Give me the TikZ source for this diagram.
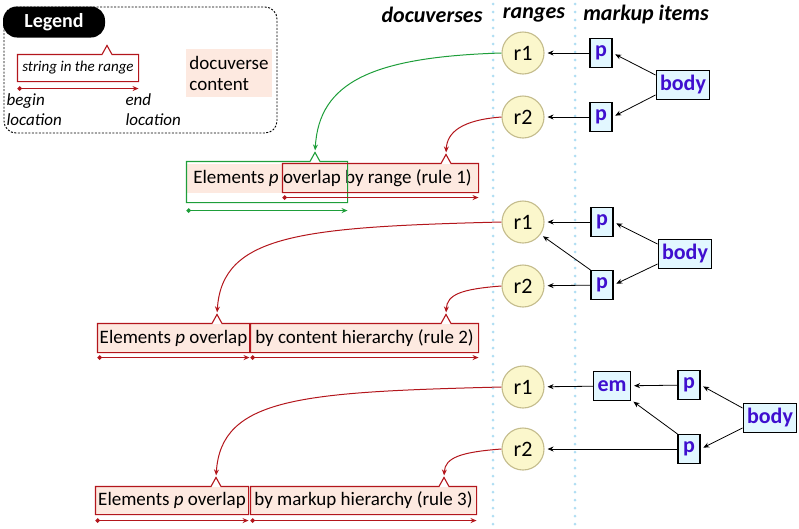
\documentclass[tikz,border=0pt]{standalone}
\usepackage{fontspec}
\setmainfont{Carlito}
\usetikzlibrary{arrows.meta}

\definecolor{rangered}{HTML}{B3161C}
\definecolor{rangegreen}{HTML}{1E9E3A}
\definecolor{docpink}{HTML}{FDE9E0}
\definecolor{rangeyellow}{HTML}{FBF7CC}
\definecolor{rangeedge}{HTML}{C4BC8C}
\definecolor{itemfill}{HTML}{E2F7FF}
\definecolor{itemtext}{HTML}{3F0FCF}
\definecolor{guideblue}{HTML}{B0DEF3}

\tikzset{
  rangenode/.style={circle, draw=rangeedge, fill=rangeyellow, minimum size=42pt, inner sep=0pt, font=\fontsize{22}{22}\selectfont},
  itemnode/.style={draw, fill=itemfill, text=itemtext, font=\bfseries\fontsize{22}{22}\selectfont, minimum height=29pt, minimum width=22pt, inner xsep=4pt, inner ysep=0pt},
  doctext/.style={fill=docpink, font=\fontsize{19}{19}\selectfont, minimum height=28pt, inner sep=0pt},
  spanbox/.style={inner sep=0pt},
  ptr/.style={-{Stealth[length=6pt,width=5pt]}, shorten >=3pt, line width=0.8pt},
  locline/.style={{Circle[length=4.5pt]}-{Stealth[length=6pt,width=5pt]}},
  colhead/.style={font=\bfseries\itshape\fontsize{22}{22}\selectfont},
  guideline/.style={guideblue, line width=3pt, dash pattern=on 0pt off 8pt, line cap=round},
}

% box round a range, with a notch where the range arrow lands
\newcommand{\rangebox}[3]{%
  \coordinate (#1-n) at ({#2},0 |- #1.north);
  \draw[#3] (#1.north west) -- ([xshift=-5pt]#1-n) -- ([yshift=9pt]#1-n) coordinate (#1-tip) -- ([xshift=5pt]#1-n) -- (#1.north east) -- (#1.south east) -- (#1.south west) -- cycle;
}

\begin{document}
\begin{tikzpicture}[x=1pt,y=-1pt,line width=1.1pt]
  \useasboundingbox (0,0) rectangle (799,528);

  % column guides
  \draw[guideline] (493,4) -- (493,528);
  \draw[guideline] (575,4) -- (575,528);

  % column heads
  \node[colhead] (hdoc) at (432,15) {docuverses};
  \node[colhead] (hrange) at (534,15) {ranges};
  \node[colhead] (hitem) at (646,15) {markup items};

  % legend
  \draw[line width=0.9pt, dash pattern=on 2pt off 1.5pt, rounded corners=12pt] (4,7) rectangle (277,133);
  \node[fill=black, text=white, rounded corners=14pt, minimum width=102pt, minimum height=31pt, font=\bfseries\fontsize{20}{20}\selectfont] (legend) at (54,22) {Legend};
  \node[spanbox, minimum width=120pt, minimum height=26pt, font=\itshape\fontsize{15}{15}\selectfont] (legspan) at (78,68) {string in the range};
  \rangebox{legspan}{107}{rangered}
  \draw[locline, rangered] ([yshift=-7pt]legspan.south west) -- ([yshift=-7pt]legspan.south east);
  \node[anchor=north west, align=left, inner sep=0pt, font=\itshape\fontsize{17}{20}\selectfont] (beginlbl) at (6,93) {begin\\location};
  \node[anchor=north west, align=left, inner sep=0pt, font=\itshape\fontsize{17}{20}\selectfont] (endlbl) at (125,93) {end\\location};
  \node[fill=docpink, minimum width=86pt, minimum height=48pt, align=left, font=\fontsize{19}{21}\selectfont] (doclbl) at (229,73) {docuverse\\content};

  % rule 1: overlap by range
  \node[rangenode] (r1a) at (523,53) {r1};
  \node[rangenode] (r2a) at (523,117) {r2};
  \node[itemnode] (p1a) at (601,53) {p};
  \node[itemnode] (p2a) at (601,117) {p};
  \node[itemnode] (body1) at (683,85) {body};
  \draw[ptr] (p1a) -- (r1a);
  \draw[ptr] (p2a) -- (r2a);
  \draw[ptr] (body1.160) -- (p1a.east);
  \draw[ptr] (body1.200) -- (p2a.east);

  \node[doctext, minimum width=291pt, minimum height=29pt] (doc1) at (332.5,178.5) {Elements \textit{p} overlap by range (rule 1)};
  \node[spanbox, minimum width=160pt, minimum height=40pt] (s1a) at (267,182) {};
  \node[spanbox, minimum width=195pt, minimum height=28pt] (s1b) at (380.5,178) {};
  \rangebox{s1a}{315}{rangegreen}
  \rangebox{s1b}{446}{rangered}
  \draw[locline, rangegreen] ([yshift=-8pt]s1a.south west) -- ([yshift=-8pt]s1a.south east);
  \draw[locline, rangered] ([yshift=-5pt]s1b.south west) -- ([yshift=-5pt]s1b.south east);
  \draw[ptr, rangegreen, shorten >=2pt, line width=1pt] (r1a.west) .. controls +(-130,4) and +(4,-70) .. (s1a-tip);
  \draw[ptr, rangered, shorten >=2pt, line width=1pt] (r2a.west) .. controls +(-40,3) and +(1,-22) .. (s1b-tip);

  % rule 2: overlap by content hierarchy
  \node[rangenode] (r1b) at (523,222) {r1};
  \node[rangenode] (r2b) at (523,286) {r2};
  \node[itemnode] (p1b) at (602,222) {p};
  \node[itemnode] (p2b) at (602,285) {p};
  \node[itemnode] (body2) at (685,254) {body};
  \draw[ptr] (p1b) -- (r1b);
  \draw[ptr] (p2b) -- (r2b);
  \draw[ptr] (p2b.north west) -- (r1b);
  \draw[ptr] (body2.160) -- (p1b.east);
  \draw[ptr] (body2.200) -- (p2b.east);

  \node[doctext, minimum width=151pt] (d2a) at (173.5,338) {Elements \textit{p} overlap};
  \node[doctext, minimum width=227pt] (d2b) at (364.5,338) {by content hierarchy (rule 2)};
  \rangebox{d2a}{217}{rangered}
  \rangebox{d2b}{446}{rangered}
  \draw[locline, rangered] ([yshift=-5pt]d2a.south west) -- ([yshift=-5pt]d2a.south east);
  \draw[locline, rangered] ([yshift=-5pt]d2b.south west) -- ([yshift=-5pt]d2b.south east);
  \draw[ptr, rangered, shorten >=2pt, line width=1pt] (r1b.west) .. controls +(-200,5) and +(5,-80) .. (d2a-tip);
  \draw[ptr, rangered, shorten >=2pt, line width=1pt] (r2b.west) .. controls +(-40,3) and +(1,-20) .. (d2b-tip);

  % rule 3: overlap by markup hierarchy
  \node[rangenode] (r1c) at (523,387) {r1};
  \node[rangenode] (r2c) at (523,449) {r2};
  \node[itemnode] (emc) at (612,386) {em};
  \node[itemnode] (p1c) at (689,385) {p};
  \node[itemnode] (p2c) at (689,449) {p};
  \node[itemnode] (body3) at (770,418) {body};
  \draw[ptr] (emc) -- (r1c);
  \draw[ptr] (p1c) -- (emc);
  \draw[ptr] (p2c.north west) -- (emc);
  \draw[ptr] (p2c) -- (r2c);
  \draw[ptr] (body3.160) -- (p1c.east);
  \draw[ptr] (body3.200) -- (p2c.east);

  \node[doctext, minimum width=152pt, minimum height=27pt] (d3a) at (172,500.5) {Elements \textit{p} overlap};
  \node[doctext, minimum width=225pt, minimum height=27pt] (d3b) at (363.5,500.5) {by markup hierarchy (rule 3)};
  \rangebox{d3a}{216}{rangered}
  \rangebox{d3b}{444}{rangered}
  \draw[locline, rangered] ([yshift=-6pt]d3a.south west) -- ([yshift=-6pt]d3a.south east);
  \draw[locline, rangered] ([yshift=-6pt]d3b.south west) -- ([yshift=-6pt]d3b.south east);
  \draw[ptr, rangered, shorten >=2pt, line width=1pt] (r1c.west) .. controls +(-200,5) and +(5,-80) .. (d3a-tip);
  \draw[ptr, rangered, shorten >=2pt, line width=1pt] (r2c.west) .. controls +(-40,3) and +(1,-20) .. (d3b-tip);
\end{tikzpicture}
\end{document}
